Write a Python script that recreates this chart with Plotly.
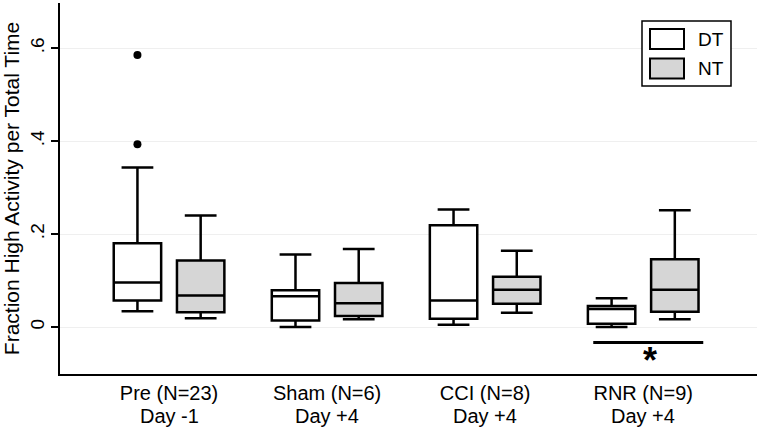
import plotly.graph_objects as go

# group labels (two lines under each group)
groups = ['Pre (N=23)', 'Sham (N=6)', 'CCI (N=8)', 'RNR (N=9)']
days = ['Day -1', 'Day +4', 'Day +4', 'Day +4']
group_pos = [1, 2, 3, 4]
series = ['DT', 'NT']

# box statistics
dt_lower = [0.034, 0.000, 0.005, 0.000]
dt_q1 = [0.057, 0.014, 0.018, 0.007]
dt_median = [0.096, 0.066, 0.057, 0.039]
dt_q3 = [0.180, 0.079, 0.219, 0.045]
dt_upper = [0.343, 0.156, 0.253, 0.062]

nt_lower = [0.019, 0.017, 0.031, 0.017]
nt_q1 = [0.032, 0.024, 0.050, 0.033]
nt_median = [0.068, 0.051, 0.080, 0.080]
nt_q3 = [0.143, 0.095, 0.108, 0.146]
nt_upper = [0.240, 0.168, 0.164, 0.251]

# outliers of Pre / DT
pre_dt_outliers = [0.585, 0.393]

# significance (RNR, DT vs NT)
sig_group = 4
sig_y = -0.033

off = 0.2
font = 'Arial, Liberation Sans, sans-serif'
nt_fill = '#d6d6d6'

fig = go.Figure()

fig.add_trace(go.Box(x=[g - off for g in group_pos], q1=dt_q1, median=dt_median, q3=dt_q3,
                     lowerfence=dt_lower, upperfence=dt_upper, name=series[0],
                     width=0.3, whiskerwidth=0.67, fillcolor='white',
                     line=dict(color='black', width=2.5), boxpoints=False,
                     showlegend=False))
fig.add_trace(go.Box(x=[g + off for g in group_pos], q1=nt_q1, median=nt_median, q3=nt_q3,
                     lowerfence=nt_lower, upperfence=nt_upper, name=series[1],
                     width=0.3, whiskerwidth=0.67, fillcolor=nt_fill,
                     line=dict(color='black', width=2.5), boxpoints=False,
                     showlegend=False))
fig.add_trace(go.Scatter(x=[group_pos[0] - off] * len(pre_dt_outliers), y=pre_dt_outliers,
                         mode='markers', marker=dict(color='black', size=8),
                         showlegend=False))

# significance bar and star
fig.add_shape(type='line', xref='x', yref='y',
              x0=sig_group - off - 0.116, x1=sig_group + off + 0.18, y0=sig_y, y1=sig_y,
              line=dict(color='black', width=3))
fig.add_annotation(x=sig_group + 0.04, y=sig_y, xref='x', yref='y', text='<b>*</b>',
                   showarrow=False, yanchor='top', yshift=4,
                   font=dict(family=font, size=36, color='black'))

# second line of the category labels
for g, d in zip(group_pos, days):
    fig.add_annotation(x=g, y=-0.077, xref='x', yref='paper', text=d, showarrow=False,
                       yanchor='top', font=dict(family=font, size=20, color='black'))

# hand-drawn legend box
def px_x(p):
    return (p - 60) / 697

def px_y(p):
    return (374 - p) / 371

fig.add_shape(type='rect', xref='paper', yref='paper', x0=px_x(642), x1=px_x(731),
              y0=px_y(86), y1=px_y(21), line=dict(color='black', width=1.5), fillcolor='white')
for i, (name, fill) in enumerate(zip(series, ['white', nt_fill])):
    top = 29 + i * 29.5
    fig.add_shape(type='rect', xref='paper', yref='paper', x0=px_x(650), x1=px_x(684),
                  y0=px_y(top + 20), y1=px_y(top), line=dict(color='black', width=2),
                  fillcolor=fill)
    fig.add_annotation(x=px_x(696), y=px_y(top + 10), xref='paper', yref='paper', text=name,
                       showarrow=False, xanchor='left', yanchor='middle',
                       font=dict(family=font, size=19, color='black'))

fig.update_layout(
    width=757, height=427,
    margin=dict(l=60, r=0, t=3, b=53),
    paper_bgcolor='white', plot_bgcolor='white',
    font=dict(family=font, color='black'),
    boxmode='overlay',
    xaxis=dict(range=[0.31, 4.72], tickvals=group_pos, ticktext=groups, showgrid=False,
               zeroline=False, showline=True, linecolor='black', linewidth=1.5,
               ticks='', tickfont=dict(size=20)),
    yaxis=dict(range=[-0.101, 0.697], tickvals=[0, 0.2, 0.4, 0.6],
               ticktext=['0', '.2', '.4', '.6'], tickangle=-90, ticks='outside',
               ticklen=7, tickwidth=1.5, tickcolor='black', showline=True,
               linecolor='black', linewidth=1.5, gridcolor='#efefef', gridwidth=1,
               zeroline=False, tickfont=dict(size=19), automargin=False,
               title=dict(text='Fraction High Activity per Total Time',
                          font=dict(size=21), standoff=4)),
)

fig.write_html('out.html', config={'displayModeBar': False},
               post_script="document.body.style.margin='0';")
